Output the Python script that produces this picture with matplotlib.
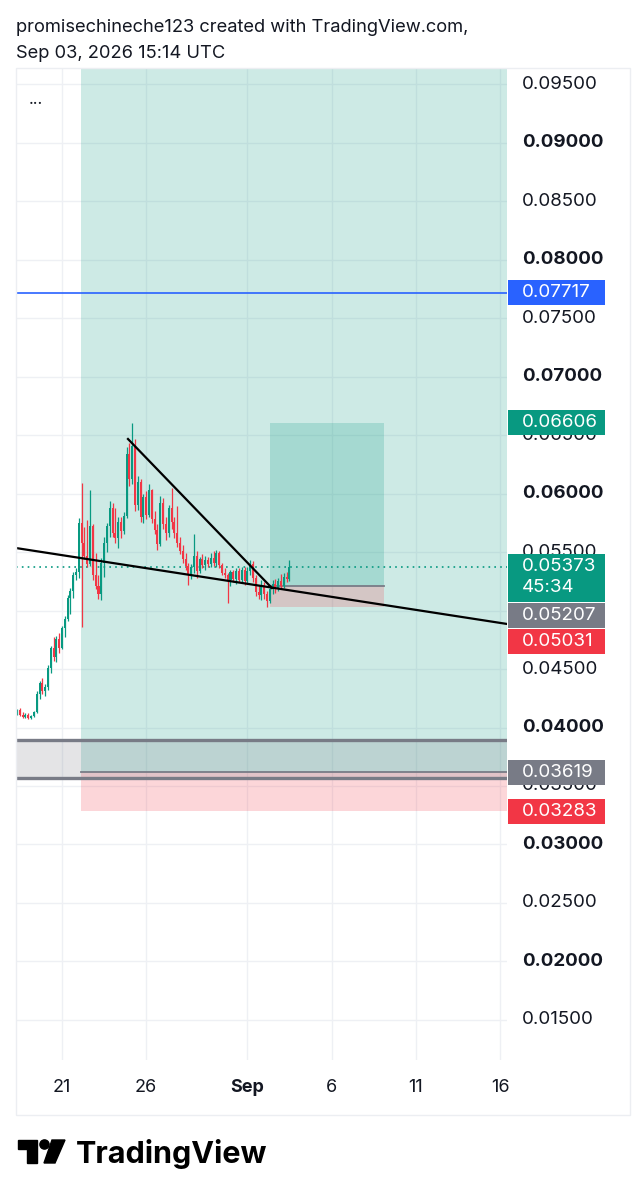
import numpy as np
import pandas as pd
import matplotlib
matplotlib.use("Agg")
import matplotlib.pyplot as plt
import matplotlib.dates as mdates
from matplotlib.patches import Rectangle, Polygon, Circle

plt.rcParams['font.family'] = ['Inter', 'DejaVu Sans']

# 4h candles, first one Aug 18 08:00 UTC
candle_start = "2026-08-18 08:00"
opens = [
    .0413, .0415, .0411, .0409, .0411, .0408, .0410, .0413, .0429, .0438,
    .0431, .0435, .0451, .0468, .0460, .0476, .0468, .0485, .0493, .0511,
    .0517, .0530, .0533, .0575, .0558, .0547, .0540, .0572, .0530, .0521,
    .0514, .0541, .0558, .0572, .0588, .0566, .0562, .0576, .0568, .0581,
    .0634, .0612, .0641, .0590, .0610, .0580, .0597, .0582, .0603, .0578,
    .0569, .0557, .0592, .0574, .0566, .0588, .0576, .0566, .0558, .0551,
    .0544, .0538, .0530, .0537, .0547, .0534, .0544, .0539, .0543, .0540,
    .0545, .0541, .0549, .0539, .0532, .0530, .0526, .0533, .0527, .0534,
    .0526, .0535, .0525, .0534, .0540, .0528, .0516, .0513, .0522, .0514,
    .0508, .0518, .0523, .0519, .0525, .0521, .0529, .0527,
]
highs = [
    .0416, .0417, .0413, .0412, .0412, .0411, .0414, .0431, .0440, .0442,
    .0437, .0453, .0470, .0477, .0478, .0481, .0487, .0495, .0513, .0519,
    .0533, .0536, .0579, .0609, .0571, .0577, .0603, .0574, .0549, .0530,
    .0545, .0563, .0575, .0594, .0592, .0588, .0580, .0580, .0584, .0640,
    .0643, .0660, .0647, .0615, .0612, .0600, .0602, .0608, .0604, .0585,
    .0574, .0598, .0596, .0580, .0590, .0605, .0580, .0589, .0563, .0556,
    .0549, .0541, .0540, .0565, .0551, .0546, .0548, .0547, .0546, .0549,
    .0551, .0552, .0551, .0541, .0536, .0532, .0535, .0535, .0536, .0536,
    .0537, .0537, .0537, .0543, .0542, .0530, .0522, .0526, .0524, .0517,
    .0521, .0526, .0527, .0528, .0531, .0532, .0533, .0543,
]
lows = [
    .0411, .0410, .0408, .0408, .0407, .0407, .0409, .0412, .0424, .0429,
    .0427, .0432, .0447, .0457, .0456, .0464, .0467, .0477, .0491, .0497,
    .0511, .0526, .0528, .0486, .0544, .0537, .0538, .0526, .0518, .0510,
    .0509, .0529, .0550, .0563, .0563, .0558, .0553, .0562, .0565, .0579,
    .0606, .0608, .0585, .0586, .0576, .0575, .0578, .0580, .0575, .0565,
    .0552, .0555, .0570, .0560, .0563, .0570, .0562, .0554, .0548, .0541,
    .0535, .0522, .0527, .0532, .0528, .0532, .0536, .0535, .0537, .0537,
    .0538, .0537, .0536, .0530, .0528, .0506, .0521, .0524, .0523, .0524,
    .0524, .0522, .0523, .0530, .0524, .0512, .0510, .0509, .0510, .0503,
    .0506, .0514, .0515, .0517, .0518, .0519, .0524, .0525,
]
closes = [
    .0415, .0411, .0409, .0411, .0408, .0410, .0413, .0429, .0438, .0431,
    .0435, .0451, .0468, .0460, .0476, .0468, .0485, .0493, .0511, .0517,
    .0530, .0533, .0575, .0558, .0547, .0540, .0572, .0530, .0521, .0514,
    .0541, .0558, .0572, .0588, .0566, .0562, .0576, .0568, .0581, .0634,
    .0612, .0641, .0590, .0610, .0580, .0597, .0582, .0603, .0578, .0569,
    .0557, .0592, .0574, .0566, .0588, .0576, .0566, .0558, .0551, .0544,
    .0538, .0530, .0537, .0547, .0534, .0544, .0539, .0543, .0540, .0545,
    .0541, .0549, .0539, .0532, .0530, .0526, .0533, .0527, .0534, .0526,
    .0535, .0525, .0534, .0540, .0528, .0516, .0513, .0522, .0514, .0508,
    .0518, .0523, .0519, .0525, .0521, .0529, .0527, .0537,
]

# drawings
blue_level = 0.07717
last_price = 0.05373
countdown = "45:34"
big_box_start, big_box_end = "2026-08-22 03:00", "2026-09-25"
big_entry, big_target, big_stop = 0.03619, 0.1000, 0.03283
small_box_start, small_box_end = "2026-09-02 08:00", "2026-09-09 03:00"
small_entry, small_target, small_stop = 0.05207, 0.06606, 0.05031
zone_start, zone_end = "2026-08-10", "2026-09-25"
zone_top, zone_bottom = 0.03893, 0.03568
trend_a = [("2026-08-18 06:30", 0.05534), ("2026-09-16 09:50", 0.04885)]
trend_b = [("2026-08-24 22:00", 0.06466), ("2026-09-02 11:00", 0.05192)]

price_ticks = [0.015, 0.020, 0.025, 0.030, 0.035, 0.040, 0.045, 0.050,
               0.055, 0.060, 0.065, 0.070, 0.075, 0.080, 0.085, 0.090, 0.095]
date_ticks = ["2026-08-21", "2026-08-26", "2026-09-01", "2026-09-06", "2026-09-11", "2026-09-16"]
date_labels = ["21", "26", "Sep", "6", "11", "16"]

tag_prices = [blue_level, small_target, last_price, small_entry, small_stop, big_entry, big_stop]
tag_colors = ["#2962ff", "#089981", "#089981", "#787b86", "#f23645", "#787b86", "#f23645"]

GREEN = "#089981"
RED = "#f23645"
GRAY = "#787b86"
TEXT = "#131722"
GRID = "#eef0f4"

W, H = 642, 1200
fig = plt.figure(figsize=(W / 100, H / 100), dpi=100)
L, R, T, B = 16, 507, 68, 1060
ax = fig.add_axes([L / W, 1 - B / H, (R - L) / W, (B - T) / H])
ylo, yhi = 0.01158, 0.09637
ax.set_ylim(ylo, yhi)
d = lambda s: mdates.date2num(pd.Timestamp(s))
ax.set_xlim(d("2026-08-18 06:30"), d("2026-09-16 09:50"))

ax.set_yticks(price_ticks)
ax.set_xticks([d(s) for s in date_ticks])
ax.set_xticklabels(date_labels)
ax.tick_params(length=0, labelleft=False, labelsize=13, colors=TEXT, pad=14)
for lab in ax.get_xticklabels():
    if lab.get_text() == "Sep":
        lab.set_fontweight("bold")
ax.grid(True, color=GRID, lw=1, zorder=0)
ax.set_axisbelow(True)
for s in ax.spines.values():
    s.set_visible(False)

# long position boxes
def box(x0, x1, y0, y1, color, alpha):
    ax.add_patch(Rectangle((d(x0), y0), d(x1) - d(x0), y1 - y0,
                           facecolor=color, alpha=alpha, lw=0, zorder=1))

box(big_box_start, big_box_end, big_entry, big_target, GREEN, 0.2)
box(big_box_start, big_box_end, big_stop, big_entry, RED, 0.2)
box(zone_start, zone_end, zone_bottom, zone_top, GRAY, 0.2)
box(small_box_start, small_box_end, small_entry, small_target, GREEN, 0.2)
box(small_box_start, small_box_end, small_stop, small_entry, RED, 0.2)
ax.plot([d(big_box_start), d(big_box_end)], [big_entry, big_entry], color=GRAY, lw=1.3, zorder=2)
ax.plot([d(small_box_start), d(small_box_end)], [small_entry, small_entry], color=GRAY, lw=1.3, zorder=2)
for yv in (zone_top, zone_bottom):
    ax.plot([d(zone_start), d(zone_end)], [yv, yv], color=GRAY, lw=2.4, zorder=2)

ax.axhline(blue_level, color="#2962ff", lw=1.2, zorder=3)
ax.axhline(last_price, color=GREEN, lw=1.2, ls=(0, (1, 2.5)), zorder=3)

# candles
dates = pd.date_range(candle_start, periods=len(opens), freq="4h")
x = mdates.date2num(dates.to_pydatetime())
o, h, l, c = map(np.array, (opens, highs, lows, closes))
cols = np.where(c >= o, GREEN, RED)
ax.vlines(x, l, h, colors=cols, lw=0.9, zorder=4)
ax.bar(x, np.maximum(np.abs(c - o), 0.0001), bottom=np.minimum(o, c), width=0.12,
       color=cols, lw=0, zorder=5)

for line in (trend_a, trend_b):
    ax.plot([d(p[0]) for p in line], [p[1] for p in line], color="black", lw=1.6, zorder=6)

# price scale
pax = fig.add_axes([R / W, 1 - B / H, 123 / W, (B - T) / H])
pax.set_ylim(ylo, yhi)
pax.set_xlim(0, 123)
pax.axis("off")

ppx = (yhi - ylo) / (B - T)
tag_boxes = []
prev_bottom = None
for p, col in zip(tag_prices, tag_colors):
    extra = p == last_price
    top = p + 12.5 * ppx
    bot = p - (35 if extra else 12.5) * ppx
    if prev_bottom is not None and top > prev_bottom - ppx:
        shift = top - (prev_bottom - ppx)
        top -= shift
        bot -= shift
    prev_bottom = bot
    tag_boxes.append((bot, top))
    pax.add_patch(Rectangle((1, bot), 97, top - bot, facecolor=col, lw=0, zorder=3))
    cy = top - 12.5 * ppx
    pax.text(15, cy, f"{p:.5f}", va="center", ha="left", fontsize=13.5, color="white", zorder=4)
    if extra:
        pax.text(15, cy - 21 * ppx, countdown, va="center", ha="left", fontsize=13.5,
                 color="white", zorder=4)

for p in price_ticks:
    # labels fully hidden behind the tags are not drawn
    if any(b + 5 * ppx < p < t - 5 * ppx for b, t in tag_boxes):
        continue
    bold = round(p * 1000) % 10 == 0
    pax.text(15, p, f"{p:.5f}", va="center", ha="left", fontsize=13.5, color=TEXT,
             fontweight="bold" if bold else "normal", zorder=1)

# overlay in pixel coords: frame, header, logo
ov = fig.add_axes([0, 0, 1, 1], zorder=10)
ov.set_xlim(0, W)
ov.set_ylim(H, 0)
ov.axis("off")
ov.add_patch(Rectangle((L, T), 630 - L, 1115 - T, fill=False, edgecolor="#eceef2", lw=1))
ov.text(16, 28, "promisechineche123 created with TradingView.com,", fontsize=13.2,
        color=TEXT, va="center")
ov.text(16, 54, "Sep 03, 2026 15:14 UTC", fontsize=13.2, color=TEXT, va="center")
ov.text(29, 99, "...", fontsize=12, color=TEXT, va="center")
ov.add_patch(Polygon([(18, 1140), (37, 1140), (37, 1163), (27, 1163), (27, 1149), (18, 1149)],
                     color="black"))
ov.add_patch(Circle((44.5, 1144.5), 4.6, color="black"))
ov.add_patch(Polygon([(52, 1140), (65, 1140), (55, 1163), (44, 1163)], color="black"))
ov.text(76, 1163, "TradingView", fontsize=22, fontweight="bold", color="black", va="baseline")

fig.savefig("out.png", dpi=100)
